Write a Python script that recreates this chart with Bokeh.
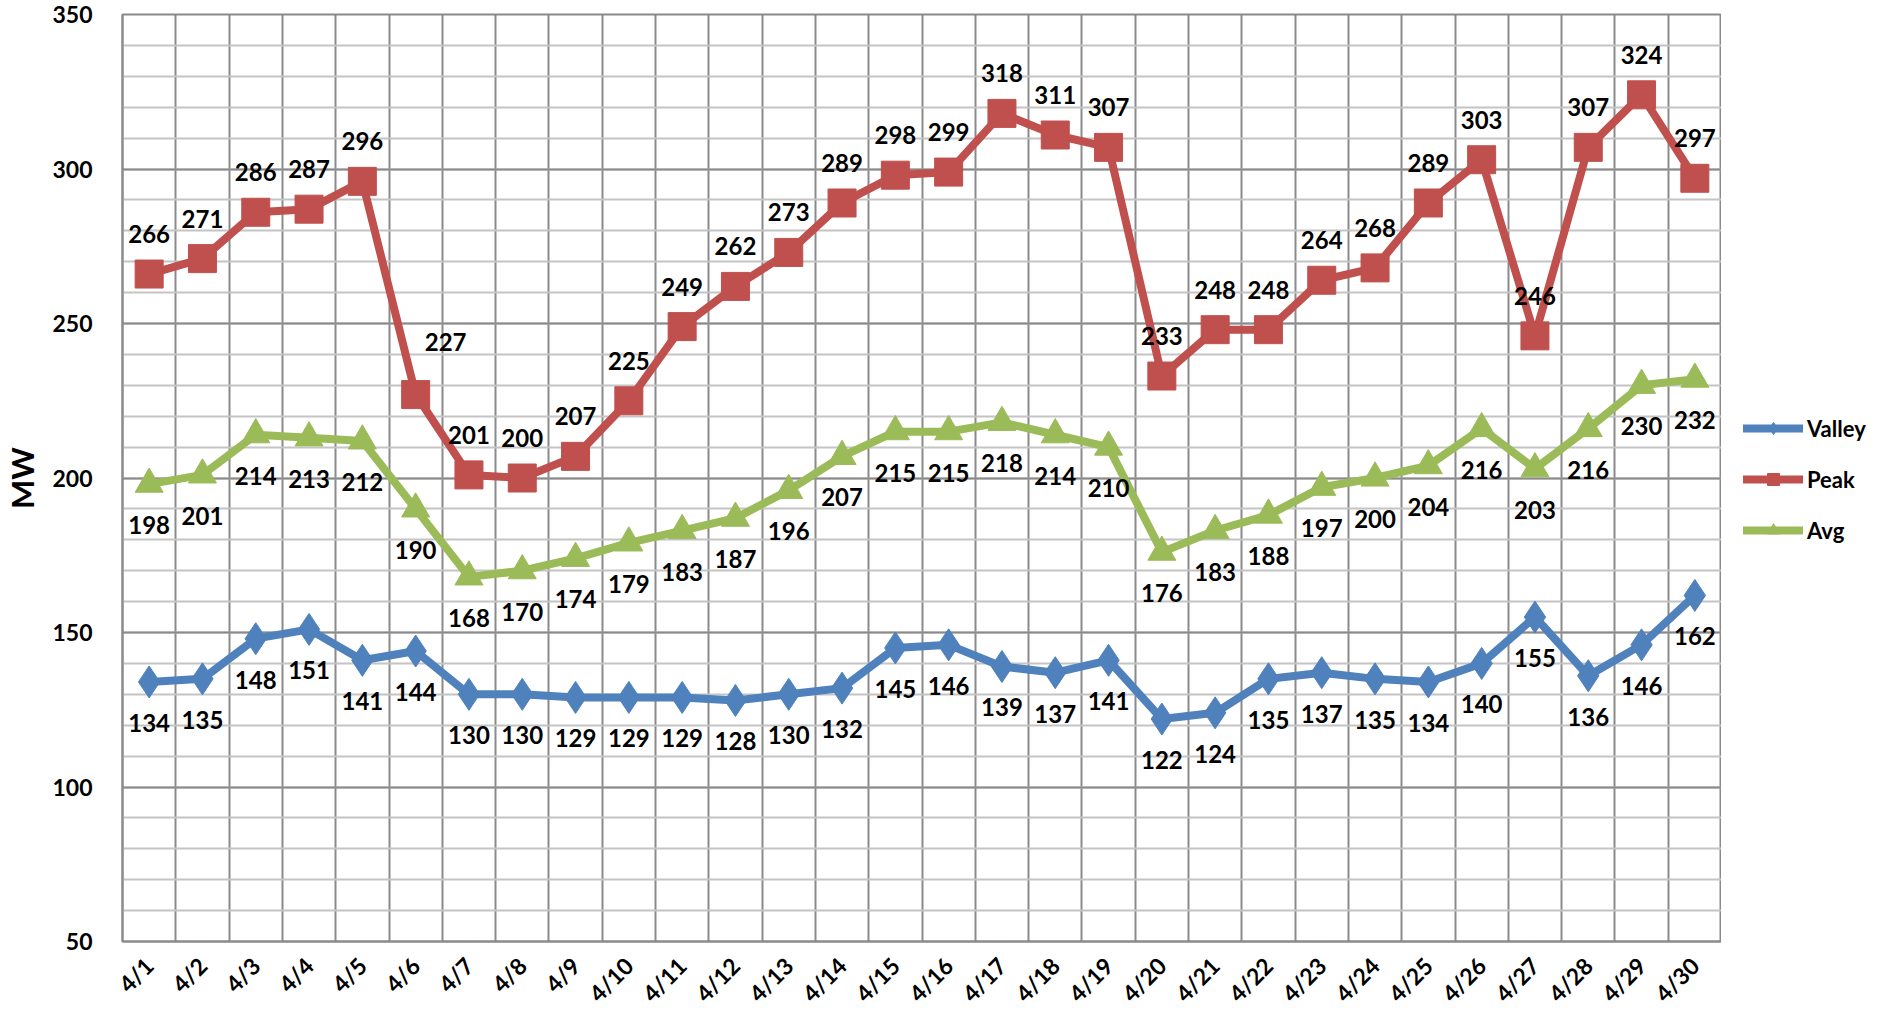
import math
from bokeh.plotting import figure
from bokeh.layouts import row
from bokeh.models import (ColumnDataSource, LabelSet, Legend, LegendItem,
                          FixedTicker, Range1d)
from bokeh.core.properties import value
from bokeh.embed import file_html
from bokeh.resources import INLINE

dates = ["4/1", "4/2", "4/3", "4/4", "4/5", "4/6", "4/7", "4/8", "4/9", "4/10",
         "4/11", "4/12", "4/13", "4/14", "4/15", "4/16", "4/17", "4/18", "4/19", "4/20",
         "4/21", "4/22", "4/23", "4/24", "4/25", "4/26", "4/27", "4/28", "4/29", "4/30"]
valley = [134, 135, 148, 151, 141, 144, 130, 130, 129, 129, 129, 128, 130, 132, 145,
          146, 139, 137, 141, 122, 124, 135, 137, 135, 134, 140, 155, 136, 146, 162]
peak = [266, 271, 286, 287, 296, 227, 201, 200, 207, 225, 249, 262, 273, 289, 298,
        299, 318, 311, 307, 233, 248, 248, 264, 268, 289, 303, 246, 307, 324, 297]
avg = [198, 201, 214, 213, 212, 190, 168, 170, 174, 179, 183, 187, 196, 207, 215,
       215, 218, 214, 210, 176, 183, 188, 197, 200, 204, 216, 203, 216, 230, 232]
y_ticks = [50, 100, 150, 200, 250, 300, 350]

FONT = "Lato"
BLUE = "#4F81BD"
RED = "#C0504D"
GREEN = "#9BBB59"

xs = list(range(1, len(dates) + 1))

p = figure(frame_width=1599, frame_height=927,
           x_range=Range1d(0.5, len(dates) + 0.5),
           y_range=Range1d(50, 350), output_backend="svg", toolbar_location=None,
           min_border_left=112, min_border_top=14, min_border_bottom=63,
           min_border_right=0)
p.background_fill_color = "white"
p.border_fill_color = "white"
p.outline_line_color = "#8a8a8a"
p.outline_line_width = 2

# grids
p.yaxis.ticker = FixedTicker(ticks=y_ticks,
                             minor_ticks=list(range(50, 351, 10)))
p.ygrid.grid_line_color = "#8a8a8a"
p.ygrid.grid_line_width = 2
p.ygrid.minor_grid_line_color = "#c4c4c4"
p.ygrid.minor_grid_line_width = 2
p.xgrid.ticker = FixedTicker(ticks=[i + 0.5 for i in range(0, len(dates) + 1)])
p.xgrid.grid_line_color = "#8a8a8a"
p.xgrid.grid_line_width = 2

# axes
p.xaxis.ticker = FixedTicker(ticks=xs)
p.xaxis.major_label_overrides = {x: d for x, d in zip(xs, dates)}
p.xaxis.major_label_orientation = math.pi / 4
for ax in (p.xaxis[0], p.yaxis[0]):
    ax.major_tick_line_color = None
    ax.minor_tick_line_color = None
    ax.axis_line_color = "#8a8a8a"
    ax.axis_line_width = 2
    ax.major_label_text_font = FONT
    ax.major_label_text_font_style = "bold"
    ax.major_label_text_font_size = "23px"
    ax.major_label_text_color = "black"
p.yaxis.major_label_standoff = 24
p.xaxis.major_label_standoff = 14
p.yaxis.axis_label = "MW"
p.yaxis.axis_label_text_font = FONT
p.yaxis.axis_label_text_font_style = "bold"
p.yaxis.axis_label_text_font_size = "31px"
p.yaxis.axis_label_text_color = "black"
p.yaxis.axis_label_standoff = 8

# legend figure (same height as the chart)
pl = figure(width=168, height=1004, output_backend="svg", toolbar_location=None,
            x_range=Range1d(0, 1), y_range=Range1d(0, 1),
            min_border_left=0, min_border_right=0, min_border_top=0,
            min_border_bottom=0)
pl.axis.visible = False
pl.grid.visible = False
pl.outline_line_color = None
pl.background_fill_color = "white"
pl.border_fill_color = "white"

# series
series = [("Valley", valley, BLUE, "diamond", 32, -41),
          ("Peak", peak, RED, "square", 28, 40),
          ("Avg", avg, GREEN, "triangle", 28, -41)]
items = []
for name, vals, color, marker, size, off in series:
    dx = [0] * len(vals)
    dy = [off] * len(vals)
    if name == "Peak":
        dx[5] = 30
        dy[5] = 53
    src = ColumnDataSource(dict(x=xs, y=vals, t=[str(v) for v in vals], dx=dx, dy=dy))
    p.line("x", "y", source=src, line_color=color, line_width=8, line_join="round")
    p.scatter("x", "y", source=src, marker=marker, size=size,
              fill_color=color, line_color=color)
    lbl = LabelSet(x="x", y="y", text="t", source=src, x_offset="dx", y_offset="dy",
                   text_align="center", text_baseline="middle",
                   text_font=value(FONT), text_font_style="bold",
                   text_font_size="24px", text_color="black")
    p.add_layout(lbl)
    # legend proxies (a single undefined point) in the legend figure
    proxy = ColumnDataSource(dict(x=[float("nan")], y=[float("nan")]))
    lln = pl.line("x", "y", source=proxy, line_color=color, line_width=8,
                  line_cap="round")
    lsc = pl.scatter("x", "y", source=proxy, marker=marker, size=size,
                     fill_color=color, line_color=color)
    items.append(LegendItem(label=name, renderers=[lln, lsc]))

legend = Legend(items=items, location=(22, 380), glyph_width=60,
                glyph_height=30, label_height=30, spacing=21, padding=14, margin=0,
                label_standoff=4, border_line_color=None,
                background_fill_alpha=0,
                label_text_font=FONT, label_text_font_style="bold",
                label_text_font_size="22px", label_text_color="black")
pl.add_layout(legend, "center")

layout = row(p, pl, spacing=0)
open("out.html", "w").write(file_html(layout, INLINE))
